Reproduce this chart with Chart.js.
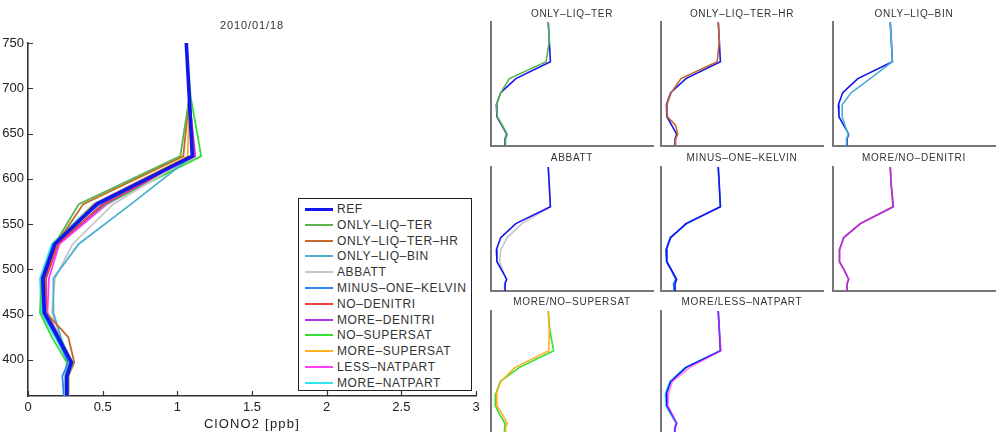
<!DOCTYPE html>
<html><head><meta charset="utf-8">
<script src="https://cdn.jsdelivr.net/npm/chart.js@4"></script>
<style>
html,body{margin:0;padding:0;background:#fff;}
#wrap{position:relative;width:998px;height:432px;overflow:hidden;background:#fff;font-family:"Liberation Sans",Arial,sans-serif;}
.abs{position:absolute;}
.ptitle{position:absolute;font-size:10px;letter-spacing:0.7px;color:#333;text-align:center;white-space:nowrap;transform:translate(-50%,-50%);}
#legend{position:absolute;left:298px;top:198px;width:172px;height:191px;border:1.5px solid #222;background:#fff;}
.li{position:absolute;left:0;height:16px;font-size:12px;letter-spacing:0.6px;color:#333;white-space:nowrap;}
.li .sw{position:absolute;left:6px;top:7px;width:28px;height:2px;}
.li .tx{position:absolute;left:38px;top:0;line-height:16px;}
</style></head>
<body><div id="wrap">
<canvas id="main" class="abs" style="left:0;top:0;width:490px;height:432px" width="490" height="432"></canvas>
<div class="ptitle" style="left:252px;top:25px;font-size:11px;letter-spacing:0.9px">2010/01/18</div>
<div class="ptitle" style="left:252px;top:423px;font-size:13px;letter-spacing:1.2px;color:#222">ClONO2 [ppb]</div>
<div id="legend"></div>
</div>
<script>
// ---- data ----
const levels = [750, 690, 625, 572, 528, 490, 452, 425, 397, 382, 360];
const REF              = [1.06, 1.08, 1.10, 0.46, 0.18, 0.10, 0.11, 0.20, 0.29, 0.26, 0.26];
const ONLY_LIQ_TER     = [1.06, 1.08, 1.02, 0.34, 0.18, 0.10, 0.12, 0.21, 0.30, 0.27, 0.27];
const ONLY_LIQ_TER_HR  = [1.06, 1.08, 1.04, 0.37, 0.19, 0.11, 0.12, 0.27, 0.31, 0.27, 0.27];
const ONLY_LIQ_BIN     = [1.06, 1.08, 1.10, 0.69, 0.34, 0.17, 0.17, 0.22, 0.28, 0.25, 0.25];
const ABBATT           = [1.06, 1.08, 1.10, 0.57, 0.30, 0.18, 0.16, 0.22, 0.28, 0.25, 0.25];
const MINUS_ONE_KELVIN = [1.06, 1.08, 1.10, 0.48, 0.17, 0.09, 0.10, 0.19, 0.27, 0.23, 0.24];
const NO_DENITRI       = [1.06, 1.08, 1.11, 0.50, 0.20, 0.12, 0.12, 0.21, 0.29, 0.26, 0.26];
const MORE_DENITRI     = [1.06, 1.08, 1.12, 0.51, 0.20, 0.12, 0.12, 0.21, 0.29, 0.26, 0.26];
const NO_SUPERSAT      = [1.06, 1.09, 1.16, 0.52, 0.17, 0.09, 0.08, 0.16, 0.26, 0.25, 0.25];
const MORE_SUPERSAT    = [1.06, 1.08, 1.07, 0.44, 0.18, 0.10, 0.11, 0.21, 0.30, 0.27, 0.27];
const LESS_NATPART     = [1.06, 1.08, 1.11, 0.53, 0.21, 0.14, 0.13, 0.21, 0.29, 0.26, 0.26];
const MORE_NATPART     = [1.06, 1.08, 1.10, 0.44, 0.16, 0.08, 0.09, 0.18, 0.28, 0.25, 0.25];

const seriesNames = ['REF','ONLY–LIQ–TER','ONLY–LIQ–TER–HR','ONLY–LIQ–BIN','ABBATT','MINUS–ONE–KELVIN',
  'NO–DENITRI','MORE–DENITRI','NO–SUPERSAT','MORE–SUPERSAT','LESS–NATPART','MORE–NATPART'];
const seriesValues = [REF, ONLY_LIQ_TER, ONLY_LIQ_TER_HR, ONLY_LIQ_BIN, ABBATT, MINUS_ONE_KELVIN,
  NO_DENITRI, MORE_DENITRI, NO_SUPERSAT, MORE_SUPERSAT, LESS_NATPART, MORE_NATPART];
const seriesColors = ['#1414ee','#5cb34e','#c4682c','#4aafd2','#c6c6c6','#2a86f2',
  '#f04040','#a436e6','#33e033','#ffb11f','#ff3cff','#30e6ee'];

const xTicks = [0, 0.5, 1, 1.5, 2, 2.5, 3];
const yTicks = [400, 450, 500, 550, 600, 650, 700, 750];
const panelTitles = ['ONLY–LIQ–TER','ONLY–LIQ–TER–HR','ONLY–LIQ–BIN','ABBATT','MINUS–ONE–KELVIN',
  'MORE/NO–DENITRI','MORE/NO–SUPERSAT','MORE/LESS–NATPART'];
const panelMembers = [[1,0],[2,0],[3,0],[0,4],[0,5],[7,6],[9,8],[10,0,11]];

// ---- layout ----
const FF = '"Liberation Sans", Arial, sans-serif';
const colLefts = [491, 661, 833];
const rowTops = [22, 167, 311];
const rowTitleY = [13, 157, 301];
const PW = 162, PH = 124;

function toPoints(vals){ return vals.map((v,i)=>({x:v, y:levels[i]})); }

const inwardTicks = {
  id:'inwardTicks',
  afterDraw(chart){
    const ctx = chart.ctx, xs = chart.scales.x, ys = chart.scales.y, ca = chart.chartArea;
    ctx.save(); ctx.strokeStyle = '#333'; ctx.lineWidth = 1.2;
    ctx.beginPath();
    xs.ticks.forEach(t=>{ const p = Math.round(xs.getPixelForValue(t.value))+0.5; ctx.moveTo(p, ca.bottom); ctx.lineTo(p, ca.bottom-5); });
    ys.ticks.forEach(t=>{ const p = Math.round(ys.getPixelForValue(t.value))+0.5; ctx.moveTo(ca.left, p); ctx.lineTo(ca.left+5, p); });
    ctx.stroke(); ctx.restore();
  }
};

new Chart(document.getElementById('main'), {
  type:'scatter',
  data:{datasets: seriesValues.map((v,i)=>({
    label: seriesNames[i], data: toPoints(v), showLine:true,
    borderColor: seriesColors[i], backgroundColor: seriesColors[i],
    borderWidth: i===0 ? 3.6 : 1.8, pointRadius:0, tension:0
  }))},
  options:{
    responsive:false, animation:false, events:[],
    layout:{padding:{top:43, right:14, left:0, bottom:0}},
    plugins:{legend:{display:false}, tooltip:{enabled:false}},
    scales:{
      x:{type:'linear', min:0, max:3, grid:{display:false, drawTicks:false},
        border:{display:true, color:'#333', width:1.6},
        afterBuildTicks:s=>{ s.ticks = xTicks.map(v=>({value:v})); },
        afterFit:s=>{ s.height = 36; },
        ticks:{padding:4, color:'#222', font:{size:13, family:FF}, maxRotation:0, autoSkip:false, callback:v=>String(v)}
      },
      y:{type:'linear', min:360, max:750, grid:{display:false, drawTicks:false},
        border:{display:true, color:'#333', width:1.6},
        afterBuildTicks:s=>{ s.ticks = yTicks.map(v=>({value:v})); },
        afterFit:s=>{ s.width = 28; },
        ticks:{padding:4, color:'#222', font:{size:13, family:FF}, autoSkip:false, callback:v=>String(v)}
      }
    }
  },
  plugins:[inwardTicks]
});

// ---- legend ----
const leg = document.getElementById('legend');
seriesNames.forEach((n,i)=>{
  const d = document.createElement('div'); d.className='li';
  d.style.top = (2 + i*15.8) + 'px';
  d.innerHTML = '<div class="sw" style="background:'+seriesColors[i]+';'+(i===0?'height:2.5px;':'')+'"></div><div class="tx">'+n+'</div>';
  leg.appendChild(d);
});

// ---- small panels ----
const wrap = document.getElementById('wrap');
panelTitles.forEach((t,p)=>{
  const col = p%3, row = Math.floor(p/3);
  const L = colLefts[col], T = rowTops[row];
  const c = document.createElement('canvas');
  c.width = PW+6; c.height = PH+6;
  c.className='abs'; c.style.left=(L-3)+'px'; c.style.top=(T-3)+'px';
  c.style.width=(PW+6)+'px'; c.style.height=(PH+6)+'px';
  wrap.appendChild(c);
  const tt = document.createElement('div'); tt.className='ptitle';
  tt.style.left=(L+PW/2)+'px'; tt.style.top=rowTitleY[row]+'px'; tt.textContent=t;
  wrap.appendChild(tt);
  const members = panelMembers[p];
  new Chart(c, {
    type:'scatter',
    data:{datasets: members.map((si,k)=>{
      let col = seriesColors[si];
      if (p===7 && k===0) col = 'rgba(255,40,255,0.6)';
      return {data: toPoints(seriesValues[si]), showLine:true, borderColor:col, backgroundColor:col,
        borderWidth:1.6, pointRadius:0, tension:0};
    })},
    options:{
      responsive:false, animation:false, events:[],
      layout:{padding:3},
      plugins:{legend:{display:false}, tooltip:{enabled:false}},
      scales:{
        x:{type:'linear', min:0, max:3, grid:{display:false, drawTicks:false}, ticks:{display:false},
          border:{display:true, color:'#777', width:2}, afterFit:s=>{ s.height=0; }},
        y:{type:'linear', min:360, max:750, grid:{display:false, drawTicks:false}, ticks:{display:false},
          border:{display:true, color:'#777', width:2}, afterFit:s=>{ s.width=0; }}
      }
    }
  });
});
</script>
</body></html>
